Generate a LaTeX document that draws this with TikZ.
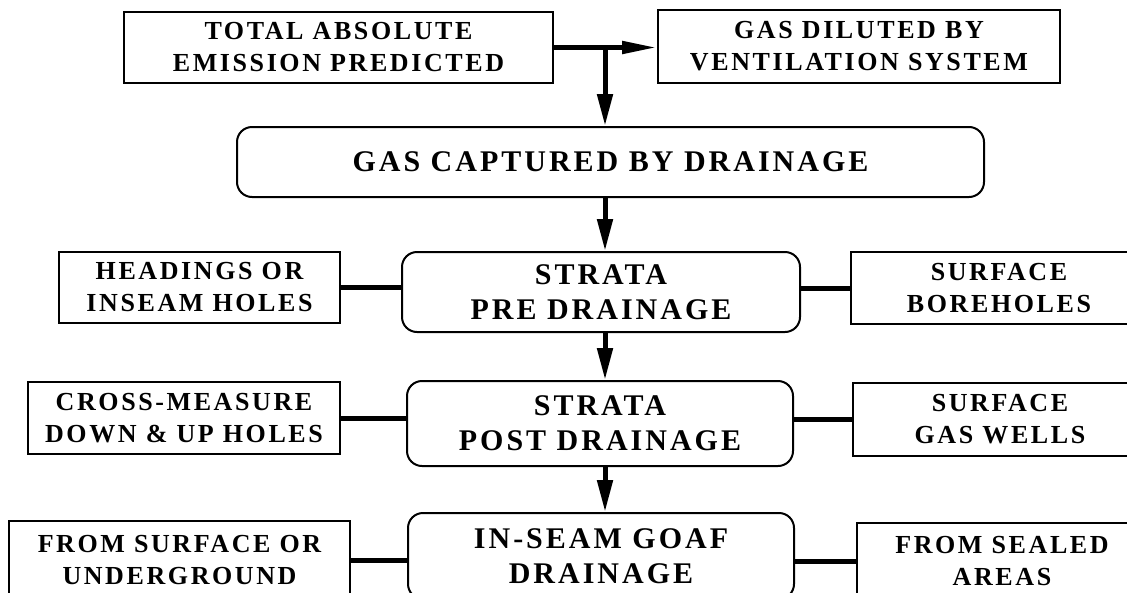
\documentclass[tikz,border=0pt]{standalone}
\usepackage{fontspec}
\setmainfont{Liberation Serif}[LetterSpace=10]
\usetikzlibrary{arrows.meta}

\begin{document}
\begin{tikzpicture}[x=1pt,y=-1pt,
	box/.style={draw, line width=2pt, align=center, inner sep=0pt, font=\bfseries\fontsize{26}{32}\selectfont},
	mainbox/.style={box, rounded corners=15pt, font=\bfseries\fontsize{30}{35}\selectfont},
	link/.style={line width=5pt},
	flow/.style={line width=5pt, -{Triangle[length=32pt,width=15pt]}}]
	\clip (0,0) rectangle (1127,592);
	\node (total) at (338.5,47.5) [box, minimum width=429pt, minimum height=71pt] {TOTAL ABSOLUTE\\EMISSION PREDICTED};
	\node (diluted) at (859,46.5) [box, minimum width=402pt, minimum height=73pt] {GAS DILUTED BY\\VENTILATION SYSTEM};
	\node (captured) at (610.5,162) [mainbox, minimum width=747pt, minimum height=70pt] {GAS CAPTURED BY DRAINAGE};
	\node (headings) at (199.5,287.5) [box, minimum width=281pt, minimum height=71pt] {HEADINGS OR\\INSEAM HOLES};
	\node (pre) at (601,292) [mainbox, minimum width=398pt, minimum height=80pt] {STRATA\\PRE DRAINAGE};
	\node (boreholes) at (999,288) [box, minimum width=296pt, minimum height=72pt] {SURFACE\\BOREHOLES};
	\node (cross) at (184,418) [box, minimum width=312pt, minimum height=72pt] {CROSS-MEASURE\\DOWN \& UP HOLES};
	\node (post) at (600,423.5) [mainbox, minimum width=386pt, minimum height=85pt] {STRATA\\POST DRAINAGE};
	\node (wells) at (1000,419.5) [box, minimum width=294pt, minimum height=73pt] {SURFACE\\GAS WELLS};
	\node (fromsurf) at (179.5,560) [box, minimum width=341pt, minimum height=78pt] {FROM SURFACE OR\\UNDERGROUND};
	\node (goaf) at (601,556) [mainbox, minimum width=386pt, minimum height=86pt] {IN-SEAM GOAF\\DRAINAGE};
	\node (sealed) at (1002,561.5) [box, minimum width=290pt, minimum height=77pt] {FROM SEALED\\AREAS};
	\coordinate (split) at (605,47.5);
	\draw[flow, -{Triangle[length=35pt,width=12pt]}] (total.east) -- (total.east -| diluted.west);
	\draw[flow] (split) -- (split |- captured.north);
	\foreach \a/\b in {captured/pre, pre/post, post/goaf}
		\draw[flow] (split |- \a.south) -- (split |- \b.north);
	\foreach \s/\m in {headings/pre, cross/post, fromsurf/goaf}
		\draw[link] (\s.east) -- (\s.east -| \m.west);
	\foreach \s/\m in {boreholes/pre, wells/post, sealed/goaf}
		\draw[link] (\s.west) -- (\s.west -| \m.east);
\end{tikzpicture}
\end{document}
